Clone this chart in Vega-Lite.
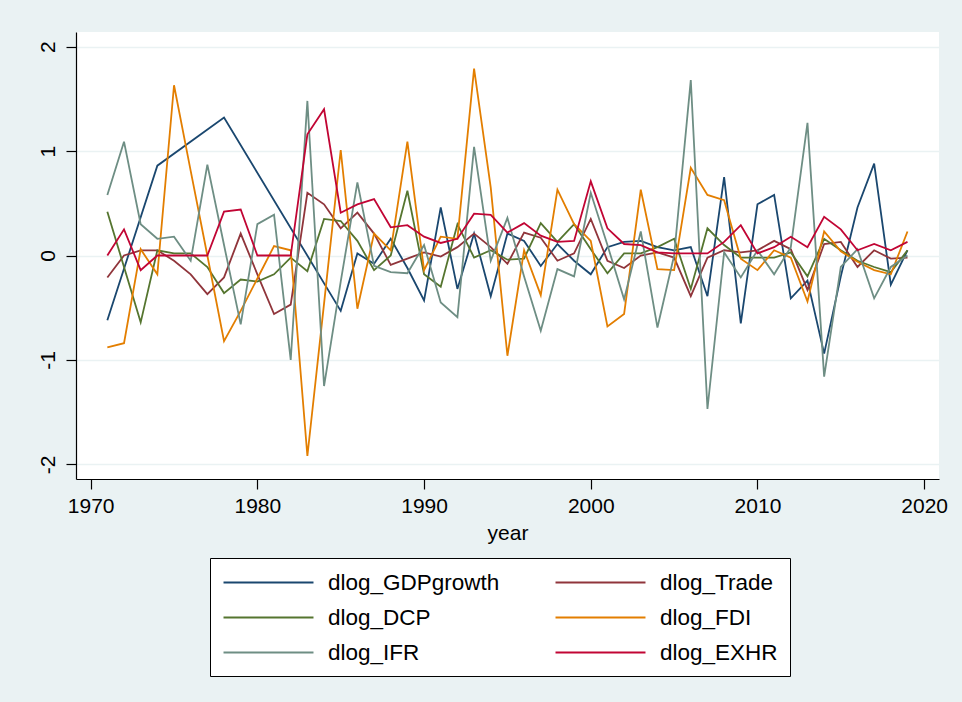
{
"$schema":"https://vega.github.io/schema/vega-lite/v6.json",
"width":863,"height":447,
"autosize":{"type":"none"},
"padding":{"left":76,"top":32,"right":23,"bottom":223},
"background":"#eaf2f3",
"config":{"view":{"fill":"white","stroke":null},"font":"Liberation Sans"},
"datasets":{"d":[
{"year":1971,"series":"dlog_GDPgrowth","value":-0.62},{"year":1974,"series":"dlog_GDPgrowth","value":0.86},{"year":1978,"series":"dlog_GDPgrowth","value":1.32},{"year":1985,"series":"dlog_GDPgrowth","value":-0.53},{"year":1986,"series":"dlog_GDPgrowth","value":0.02},{"year":1987,"series":"dlog_GDPgrowth","value":-0.08},{"year":1988,"series":"dlog_GDPgrowth","value":0.16},{"year":1989,"series":"dlog_GDPgrowth","value":-0.12},{"year":1990,"series":"dlog_GDPgrowth","value":-0.43},{"year":1991,"series":"dlog_GDPgrowth","value":0.46},{"year":1992,"series":"dlog_GDPgrowth","value":-0.32},{"year":1993,"series":"dlog_GDPgrowth","value":0.21},{"year":1994,"series":"dlog_GDPgrowth","value":-0.39},{"year":1995,"series":"dlog_GDPgrowth","value":0.21},{"year":1996,"series":"dlog_GDPgrowth","value":0.14},{"year":1997,"series":"dlog_GDPgrowth","value":-0.10},{"year":1998,"series":"dlog_GDPgrowth","value":0.11},{"year":1999,"series":"dlog_GDPgrowth","value":-0.05},{"year":2000,"series":"dlog_GDPgrowth","value":-0.18},{"year":2001,"series":"dlog_GDPgrowth","value":0.08},{"year":2002,"series":"dlog_GDPgrowth","value":0.13},{"year":2003,"series":"dlog_GDPgrowth","value":0.14},{"year":2004,"series":"dlog_GDPgrowth","value":0.08},{"year":2005,"series":"dlog_GDPgrowth","value":0.05},{"year":2006,"series":"dlog_GDPgrowth","value":0.08},{"year":2007,"series":"dlog_GDPgrowth","value":-0.39},{"year":2008,"series":"dlog_GDPgrowth","value":0.75},{"year":2009,"series":"dlog_GDPgrowth","value":-0.65},{"year":2010,"series":"dlog_GDPgrowth","value":0.49},{"year":2011,"series":"dlog_GDPgrowth","value":0.58},{"year":2012,"series":"dlog_GDPgrowth","value":-0.41},{"year":2013,"series":"dlog_GDPgrowth","value":-0.24},{"year":2014,"series":"dlog_GDPgrowth","value":-0.94},{"year":2015,"series":"dlog_GDPgrowth","value":-0.20},{"year":2016,"series":"dlog_GDPgrowth","value":0.46},{"year":2017,"series":"dlog_GDPgrowth","value":0.88},{"year":2018,"series":"dlog_GDPgrowth","value":-0.28},{"year":2019,"series":"dlog_GDPgrowth","value":0.05},
{"year":1971,"series":"dlog_Trade","value":-0.21},{"year":1972,"series":"dlog_Trade","value":0.0},{"year":1973,"series":"dlog_Trade","value":0.05},{"year":1974,"series":"dlog_Trade","value":0.05},{"year":1975,"series":"dlog_Trade","value":-0.05},{"year":1976,"series":"dlog_Trade","value":-0.18},{"year":1977,"series":"dlog_Trade","value":-0.37},{"year":1978,"series":"dlog_Trade","value":-0.21},{"year":1979,"series":"dlog_Trade","value":0.21},{"year":1980,"series":"dlog_Trade","value":-0.18},{"year":1981,"series":"dlog_Trade","value":-0.56},{"year":1982,"series":"dlog_Trade","value":-0.47},{"year":1983,"series":"dlog_Trade","value":0.60},{"year":1984,"series":"dlog_Trade","value":0.49},{"year":1985,"series":"dlog_Trade","value":0.26},{"year":1986,"series":"dlog_Trade","value":0.41},{"year":1987,"series":"dlog_Trade","value":0.21},{"year":1988,"series":"dlog_Trade","value":-0.09},{"year":1989,"series":"dlog_Trade","value":-0.03},{"year":1990,"series":"dlog_Trade","value":0.03},{"year":1991,"series":"dlog_Trade","value":-0.01},{"year":1992,"series":"dlog_Trade","value":0.08},{"year":1993,"series":"dlog_Trade","value":0.21},{"year":1994,"series":"dlog_Trade","value":0.08},{"year":1995,"series":"dlog_Trade","value":-0.08},{"year":1996,"series":"dlog_Trade","value":0.22},{"year":1997,"series":"dlog_Trade","value":0.17},{"year":1998,"series":"dlog_Trade","value":-0.05},{"year":1999,"series":"dlog_Trade","value":0.02},{"year":2000,"series":"dlog_Trade","value":0.35},{"year":2001,"series":"dlog_Trade","value":-0.05},{"year":2002,"series":"dlog_Trade","value":-0.12},{"year":2003,"series":"dlog_Trade","value":0.0},{"year":2004,"series":"dlog_Trade","value":0.03},{"year":2005,"series":"dlog_Trade","value":-0.02},{"year":2006,"series":"dlog_Trade","value":-0.39},{"year":2007,"series":"dlog_Trade","value":-0.02},{"year":2008,"series":"dlog_Trade","value":0.05},{"year":2009,"series":"dlog_Trade","value":0.03},{"year":2010,"series":"dlog_Trade","value":0.05},{"year":2011,"series":"dlog_Trade","value":0.14},{"year":2012,"series":"dlog_Trade","value":0.06},{"year":2013,"series":"dlog_Trade","value":-0.33},{"year":2014,"series":"dlog_Trade","value":0.11},{"year":2015,"series":"dlog_Trade","value":0.13},{"year":2016,"series":"dlog_Trade","value":-0.11},{"year":2017,"series":"dlog_Trade","value":0.05},{"year":2018,"series":"dlog_Trade","value":-0.03},{"year":2019,"series":"dlog_Trade","value":-0.02},
{"year":1971,"series":"dlog_DCP","value":0.42},{"year":1972,"series":"dlog_DCP","value":-0.11},{"year":1973,"series":"dlog_DCP","value":-0.64},{"year":1974,"series":"dlog_DCP","value":0.05},{"year":1975,"series":"dlog_DCP","value":0.02},{"year":1976,"series":"dlog_DCP","value":0.02},{"year":1977,"series":"dlog_DCP","value":-0.11},{"year":1978,"series":"dlog_DCP","value":-0.36},{"year":1979,"series":"dlog_DCP","value":-0.23},{"year":1980,"series":"dlog_DCP","value":-0.25},{"year":1981,"series":"dlog_DCP","value":-0.18},{"year":1982,"series":"dlog_DCP","value":-0.02},{"year":1983,"series":"dlog_DCP","value":-0.15},{"year":1984,"series":"dlog_DCP","value":0.35},{"year":1985,"series":"dlog_DCP","value":0.33},{"year":1986,"series":"dlog_DCP","value":0.14},{"year":1987,"series":"dlog_DCP","value":-0.14},{"year":1988,"series":"dlog_DCP","value":0.0},{"year":1989,"series":"dlog_DCP","value":0.62},{"year":1990,"series":"dlog_DCP","value":-0.18},{"year":1991,"series":"dlog_DCP","value":-0.30},{"year":1992,"series":"dlog_DCP","value":0.30},{"year":1993,"series":"dlog_DCP","value":-0.02},{"year":1994,"series":"dlog_DCP","value":0.05},{"year":1995,"series":"dlog_DCP","value":-0.04},{"year":1996,"series":"dlog_DCP","value":-0.03},{"year":1997,"series":"dlog_DCP","value":0.31},{"year":1998,"series":"dlog_DCP","value":0.13},{"year":1999,"series":"dlog_DCP","value":0.30},{"year":2000,"series":"dlog_DCP","value":0.06},{"year":2001,"series":"dlog_DCP","value":-0.17},{"year":2002,"series":"dlog_DCP","value":0.02},{"year":2003,"series":"dlog_DCP","value":0.02},{"year":2004,"series":"dlog_DCP","value":0.08},{"year":2005,"series":"dlog_DCP","value":0.16},{"year":2006,"series":"dlog_DCP","value":-0.32},{"year":2007,"series":"dlog_DCP","value":0.26},{"year":2008,"series":"dlog_DCP","value":0.10},{"year":2009,"series":"dlog_DCP","value":-0.02},{"year":2010,"series":"dlog_DCP","value":-0.02},{"year":2011,"series":"dlog_DCP","value":-0.02},{"year":2012,"series":"dlog_DCP","value":0.03},{"year":2013,"series":"dlog_DCP","value":-0.20},{"year":2014,"series":"dlog_DCP","value":0.16},{"year":2015,"series":"dlog_DCP","value":0.05},{"year":2016,"series":"dlog_DCP","value":-0.05},{"year":2017,"series":"dlog_DCP","value":-0.11},{"year":2018,"series":"dlog_DCP","value":-0.16},{"year":2019,"series":"dlog_DCP","value":0.05},
{"year":1971,"series":"dlog_FDI","value":-0.88},{"year":1972,"series":"dlog_FDI","value":-0.84},{"year":1973,"series":"dlog_FDI","value":0.06},{"year":1974,"series":"dlog_FDI","value":-0.18},{"year":1975,"series":"dlog_FDI","value":1.63},{"year":1976,"series":"dlog_FDI","value":0.81},{"year":1977,"series":"dlog_FDI","value":0.0},{"year":1978,"series":"dlog_FDI","value":-0.82},{"year":1979,"series":"dlog_FDI","value":-0.53},{"year":1980,"series":"dlog_FDI","value":-0.22},{"year":1981,"series":"dlog_FDI","value":0.09},{"year":1982,"series":"dlog_FDI","value":0.05},{"year":1983,"series":"dlog_FDI","value":-1.92},{"year":1984,"series":"dlog_FDI","value":-0.46},{"year":1985,"series":"dlog_FDI","value":1.01},{"year":1986,"series":"dlog_FDI","value":-0.51},{"year":1987,"series":"dlog_FDI","value":0.21},{"year":1988,"series":"dlog_FDI","value":0.05},{"year":1989,"series":"dlog_FDI","value":1.09},{"year":1990,"series":"dlog_FDI","value":-0.14},{"year":1991,"series":"dlog_FDI","value":0.18},{"year":1992,"series":"dlog_FDI","value":0.16},{"year":1993,"series":"dlog_FDI","value":1.79},{"year":1994,"series":"dlog_FDI","value":0.65},{"year":1995,"series":"dlog_FDI","value":-0.96},{"year":1996,"series":"dlog_FDI","value":0.05},{"year":1997,"series":"dlog_FDI","value":-0.38},{"year":1998,"series":"dlog_FDI","value":0.63},{"year":1999,"series":"dlog_FDI","value":0.30},{"year":2000,"series":"dlog_FDI","value":0.14},{"year":2001,"series":"dlog_FDI","value":-0.68},{"year":2002,"series":"dlog_FDI","value":-0.56},{"year":2003,"series":"dlog_FDI","value":0.63},{"year":2004,"series":"dlog_FDI","value":-0.13},{"year":2005,"series":"dlog_FDI","value":-0.14},{"year":2006,"series":"dlog_FDI","value":0.84},{"year":2007,"series":"dlog_FDI","value":0.58},{"year":2008,"series":"dlog_FDI","value":0.53},{"year":2009,"series":"dlog_FDI","value":-0.03},{"year":2010,"series":"dlog_FDI","value":-0.14},{"year":2011,"series":"dlog_FDI","value":0.05},{"year":2012,"series":"dlog_FDI","value":-0.02},{"year":2013,"series":"dlog_FDI","value":-0.44},{"year":2014,"series":"dlog_FDI","value":0.23},{"year":2015,"series":"dlog_FDI","value":0.04},{"year":2016,"series":"dlog_FDI","value":-0.06},{"year":2017,"series":"dlog_FDI","value":-0.14},{"year":2018,"series":"dlog_FDI","value":-0.18},{"year":2019,"series":"dlog_FDI","value":0.23},
{"year":1971,"series":"dlog_IFR","value":0.58},{"year":1972,"series":"dlog_IFR","value":1.09},{"year":1973,"series":"dlog_IFR","value":0.30},{"year":1974,"series":"dlog_IFR","value":0.16},{"year":1975,"series":"dlog_IFR","value":0.18},{"year":1976,"series":"dlog_IFR","value":-0.05},{"year":1977,"series":"dlog_IFR","value":0.87},{"year":1978,"series":"dlog_IFR","value":0.10},{"year":1979,"series":"dlog_IFR","value":-0.66},{"year":1980,"series":"dlog_IFR","value":0.30},{"year":1981,"series":"dlog_IFR","value":0.39},{"year":1982,"series":"dlog_IFR","value":-1.0},{"year":1983,"series":"dlog_IFR","value":1.48},{"year":1984,"series":"dlog_IFR","value":-1.25},{"year":1985,"series":"dlog_IFR","value":-0.25},{"year":1986,"series":"dlog_IFR","value":0.70},{"year":1987,"series":"dlog_IFR","value":-0.10},{"year":1988,"series":"dlog_IFR","value":-0.16},{"year":1989,"series":"dlog_IFR","value":-0.17},{"year":1990,"series":"dlog_IFR","value":0.10},{"year":1991,"series":"dlog_IFR","value":-0.45},{"year":1992,"series":"dlog_IFR","value":-0.59},{"year":1993,"series":"dlog_IFR","value":1.04},{"year":1994,"series":"dlog_IFR","value":-0.05},{"year":1995,"series":"dlog_IFR","value":0.36},{"year":1996,"series":"dlog_IFR","value":-0.20},{"year":1997,"series":"dlog_IFR","value":-0.72},{"year":1998,"series":"dlog_IFR","value":-0.13},{"year":1999,"series":"dlog_IFR","value":-0.20},{"year":2000,"series":"dlog_IFR","value":0.60},{"year":2001,"series":"dlog_IFR","value":0.10},{"year":2002,"series":"dlog_IFR","value":-0.42},{"year":2003,"series":"dlog_IFR","value":0.23},{"year":2004,"series":"dlog_IFR","value":-0.69},{"year":2005,"series":"dlog_IFR","value":0.0},{"year":2006,"series":"dlog_IFR","value":1.68},{"year":2007,"series":"dlog_IFR","value":-1.47},{"year":2008,"series":"dlog_IFR","value":0.03},{"year":2009,"series":"dlog_IFR","value":-0.21},{"year":2010,"series":"dlog_IFR","value":0.05},{"year":2011,"series":"dlog_IFR","value":-0.18},{"year":2012,"series":"dlog_IFR","value":0.08},{"year":2013,"series":"dlog_IFR","value":1.27},{"year":2014,"series":"dlog_IFR","value":-1.16},{"year":2015,"series":"dlog_IFR","value":-0.11},{"year":2016,"series":"dlog_IFR","value":0.06},{"year":2017,"series":"dlog_IFR","value":-0.41},{"year":2018,"series":"dlog_IFR","value":-0.11},{"year":2019,"series":"dlog_IFR","value":0.0},
{"year":1971,"series":"dlog_EXHR","value":0.0},{"year":1972,"series":"dlog_EXHR","value":0.25},{"year":1973,"series":"dlog_EXHR","value":-0.14},{"year":1974,"series":"dlog_EXHR","value":0.0},{"year":1975,"series":"dlog_EXHR","value":0.0},{"year":1976,"series":"dlog_EXHR","value":0.0},{"year":1977,"series":"dlog_EXHR","value":0.0},{"year":1978,"series":"dlog_EXHR","value":0.42},{"year":1979,"series":"dlog_EXHR","value":0.44},{"year":1980,"series":"dlog_EXHR","value":0.0},{"year":1981,"series":"dlog_EXHR","value":0.0},{"year":1982,"series":"dlog_EXHR","value":0.0},{"year":1983,"series":"dlog_EXHR","value":1.16},{"year":1984,"series":"dlog_EXHR","value":1.40},{"year":1985,"series":"dlog_EXHR","value":0.41},{"year":1986,"series":"dlog_EXHR","value":0.49},{"year":1987,"series":"dlog_EXHR","value":0.54},{"year":1988,"series":"dlog_EXHR","value":0.27},{"year":1989,"series":"dlog_EXHR","value":0.29},{"year":1990,"series":"dlog_EXHR","value":0.18},{"year":1991,"series":"dlog_EXHR","value":0.12},{"year":1992,"series":"dlog_EXHR","value":0.16},{"year":1993,"series":"dlog_EXHR","value":0.40},{"year":1994,"series":"dlog_EXHR","value":0.39},{"year":1995,"series":"dlog_EXHR","value":0.22},{"year":1996,"series":"dlog_EXHR","value":0.31},{"year":1997,"series":"dlog_EXHR","value":0.19},{"year":1998,"series":"dlog_EXHR","value":0.13},{"year":1999,"series":"dlog_EXHR","value":0.14},{"year":2000,"series":"dlog_EXHR","value":0.71},{"year":2001,"series":"dlog_EXHR","value":0.26},{"year":2002,"series":"dlog_EXHR","value":0.11},{"year":2003,"series":"dlog_EXHR","value":0.10},{"year":2004,"series":"dlog_EXHR","value":0.03},{"year":2005,"series":"dlog_EXHR","value":0.02},{"year":2006,"series":"dlog_EXHR","value":0.02},{"year":2007,"series":"dlog_EXHR","value":0.02},{"year":2008,"series":"dlog_EXHR","value":0.13},{"year":2009,"series":"dlog_EXHR","value":0.29},{"year":2010,"series":"dlog_EXHR","value":0.02},{"year":2011,"series":"dlog_EXHR","value":0.08},{"year":2012,"series":"dlog_EXHR","value":0.18},{"year":2013,"series":"dlog_EXHR","value":0.08},{"year":2014,"series":"dlog_EXHR","value":0.37},{"year":2015,"series":"dlog_EXHR","value":0.25},{"year":2016,"series":"dlog_EXHR","value":0.05},{"year":2017,"series":"dlog_EXHR","value":0.11},{"year":2018,"series":"dlog_EXHR","value":0.05},{"year":2019,"series":"dlog_EXHR","value":0.13}
]},
"data":{"name":"d"},
"mark":{"type":"line","strokeWidth":1.8},
"encoding":{
"x":{"field":"year","type":"quantitative","title":"year",
"scale":{"domain":[1969.12,2020.89],"nice":false,"zero":false},
"axis":{"values":[1970,1980,1990,2000,2010,2020],"format":"d","grid":false,"domainColor":"black","domainWidth":1.2,"tickColor":"black","tickSize":10,"tickWidth":1.2,"labelFontSize":21,"labelColor":"black","labelPadding":6,"labelFlush":false,"titleFontSize":21,"titleFontWeight":"normal","titleColor":"black","titlePadding":6}},
"y":{"field":"value","type":"quantitative","title":null,
"scale":{"domain":[-2.14,2.14],"nice":false,"zero":false},
"axis":{"values":[-2,-1,0,1,2],"labelExpr":"toString(datum.value)","grid":true,"gridColor":"#eaf2f3","gridWidth":1.5,"domainColor":"black","domainWidth":1.2,"tickColor":"black","tickSize":10,"tickWidth":1.2,"labelAngle":-90,"labelAlign":"center","labelBaseline":"bottom","labelFontSize":21,"labelColor":"black","labelPadding":8,"labelFlush":false}},
"color":{"field":"series","type":"nominal",
"scale":{"domain":["dlog_GDPgrowth","dlog_DCP","dlog_IFR","dlog_Trade","dlog_FDI","dlog_EXHR"],"range":["#1a476f","#55752f","#6e8e84","#90353b","#e37e00","#c10534"]},
"legend":{"title":null,"orient":"none","legendX":134,"legendY":526,"columns":2,"gridAlign":"each","symbolType":"M-4,0H4","symbolSize":506,"symbolOffset":34,"symbolStrokeWidth":2,"labelFontSize":22.5,"labelColor":"black","labelOffset":47,"labelLimit":300,"rowPadding":11,"columnPadding":51,"padding":12,"strokeColor":"black","fillColor":"white"}}
}
}
